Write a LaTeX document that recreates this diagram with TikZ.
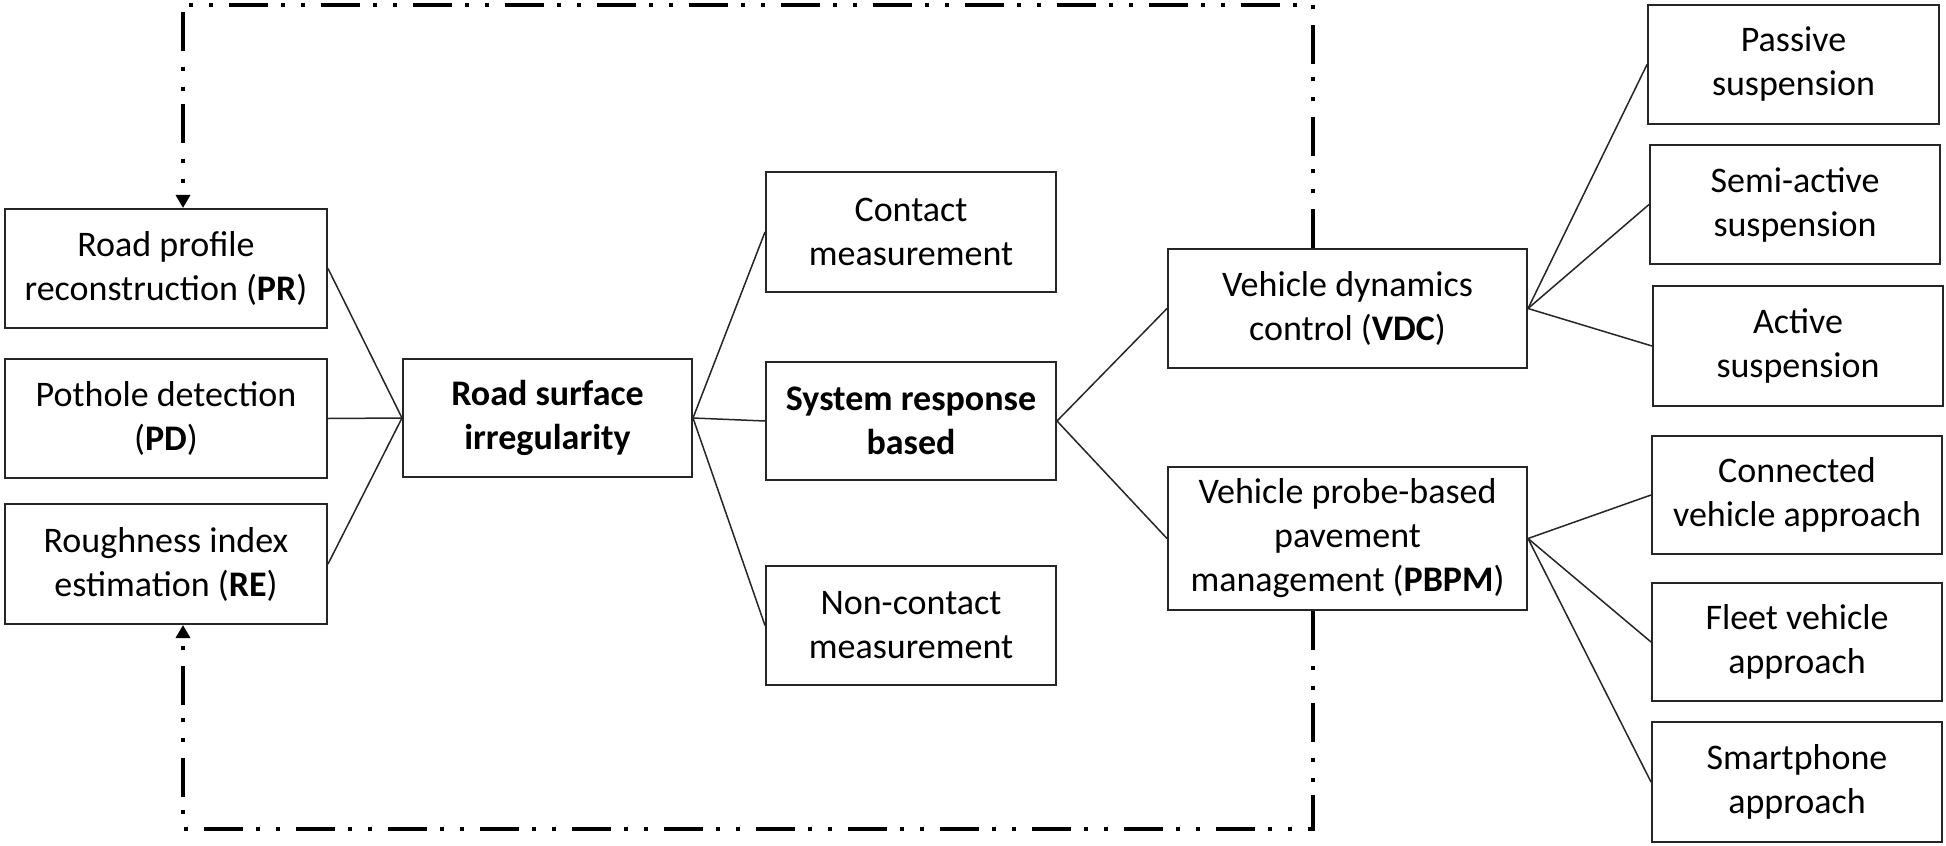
\documentclass[tikz,border=0pt]{standalone}
\usepackage{fontspec}
\setmainfont{Carlito}
\usetikzlibrary{arrows.meta}
\tikzset{
  box/.style={draw=black!85, line width=1pt, fill=white, rectangle, inner sep=0pt, align=center,
    font=\fontsize{18pt}{22pt}\selectfont},
  boldbox/.style={box, font=\fontsize{18pt}{22pt}\selectfont\bfseries},
  conn/.style={draw=black!85, line width=0.75pt},
  frameline/.style={draw=black, line width=2pt,
    dash pattern=on 19.5pt off 7.8pt on 2pt off 8pt on 2pt off 6.7pt},
  tip/.style={-{Triangle[width=7pt,length=6.5pt]}}
}
\begin{document}
\begin{tikzpicture}[x=0.5pt,y=-0.5pt]
\fill[white] (0,0) rectangle (1946,845);
\useasboundingbox (0,0) rectangle (1946,845);
% frame corner coordinates
\coordinate (ftl) at (183,5);
\coordinate (fbr) at (1313,829);
\coordinate (fbl) at (183,829);
% left column
\node[box, minimum width=161pt, minimum height=59.5pt] (PR) at (166,268.5) {Road profile\\reconstruction (\textbf{PR})};
\node[box, minimum width=161pt, minimum height=59.5pt] (PD) at (166,418.5) {Pothole detection\\(\textbf{PD})};
\node[box, minimum width=161pt, minimum height=60pt] (RE) at (166,564) {Roughness index\\estimation (\textbf{RE})};
% center
\node[boldbox, minimum width=144.5pt, minimum height=59pt] (RSI) at (547.5,418) {Road surface\\irregularity};
\node[box, minimum width=145pt, minimum height=60pt] (CM) at (911,232) {Contact\\measurement};
\node[boldbox, minimum width=145pt, minimum height=59pt] (SRB) at (911,421) {System response\\based};
\node[box, minimum width=145pt, minimum height=59.5pt] (NCM) at (911,625.5) {Non-contact\\measurement};
% applications
\node[box, minimum width=179.5pt, minimum height=59.5pt] (VDC) at (1347.5,308.5) {Vehicle dynamics\\control (\textbf{VDC})};
\node[box, minimum width=179.5pt, minimum height=71.5pt] (PBPM) at (1347.5,538.5) {Vehicle probe-based\\pavement\\management (\textbf{PBPM})};
% right column
\node[box, minimum width=145.5pt, minimum height=59.5pt] (PS) at (1793.5,64.5) {Passive\\suspension};
\node[box, minimum width=145pt, minimum height=59.5pt] (SS) at (1795,204.5) {Semi-active\\suspension};
\node[box, minimum width=145pt, minimum height=60pt] (AS) at (1798,346) {Active\\suspension};
\node[box, minimum width=145pt, minimum height=59pt] (CV) at (1797,495) {Connected\\vehicle approach};
\node[box, minimum width=145pt, minimum height=59pt] (FV) at (1797,642) {Fleet vehicle\\approach};
\node[box, minimum width=145pt, minimum height=60pt] (SP) at (1797,782) {Smartphone\\approach};
% connectors
\draw[conn] (PR.east) -- (RSI.west);
\draw[conn] (PD.east) -- (RSI.west);
\draw[conn] (RE.east) -- (RSI.west);
\draw[conn] (RSI.east) -- (CM.west);
\draw[conn] (RSI.east) -- (SRB.west);
\draw[conn] (RSI.east) -- (NCM.west);
\draw[conn] (SRB.east) -- (VDC.west);
\draw[conn] (SRB.east) -- (PBPM.west);
\draw[conn] (VDC.east) -- (PS.west);
\draw[conn] (VDC.east) -- (SS.west);
\draw[conn] (VDC.east) -- (AS.west);
\draw[conn] (PBPM.east) -- (CV.west);
\draw[conn] (PBPM.east) -- (FV.west);
\draw[conn] (PBPM.east) -- (SP.west);
% feedback frame
\draw[frameline, tip] (VDC.north -| fbr) |- (ftl) -- (PR.north -| ftl);
\draw[frameline, tip] (PBPM.south -| fbr) |- (fbl) -- (RE.south -| fbl);
\end{tikzpicture}
\end{document}
